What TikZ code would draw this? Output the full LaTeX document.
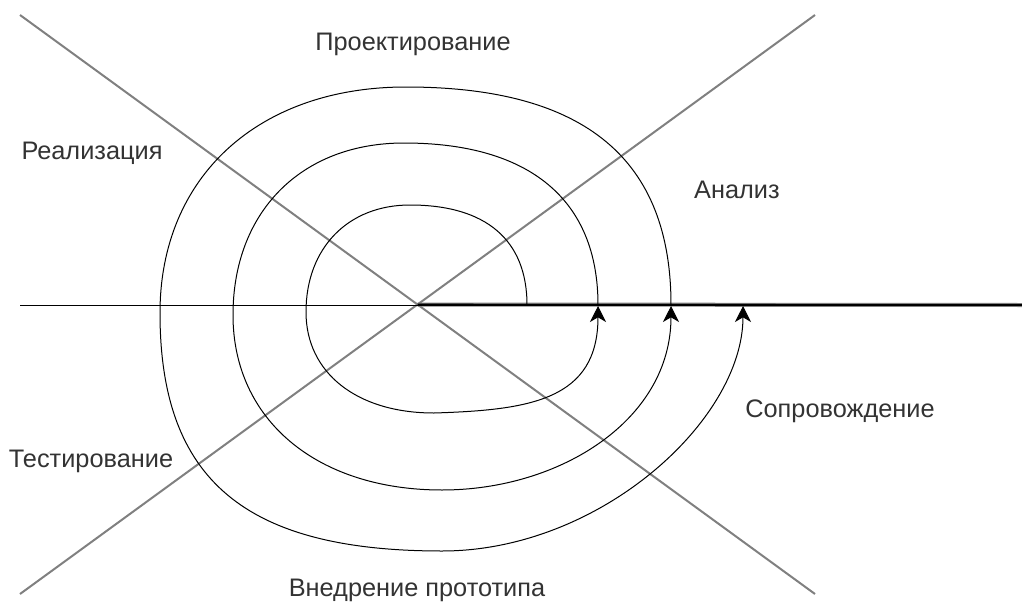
\documentclass[tikz,border=0pt]{standalone}
\usepackage{fontspec}
\setmainfont{Liberation Sans}
\usetikzlibrary{arrows.meta}
\definecolor{axisgray}{HTML}{808080}
\definecolor{txt}{HTML}{333333}
\begin{document}
\begin{tikzpicture}[x=0.75pt,y=-0.75pt,
  axis/.style={draw=axisgray,line width=1.5pt},
  hline/.style={draw=black,line width=0.75pt},
  spiral/.style={draw=black,line width=0.75pt},
  arr/.style={-{Stealth[length=12pt,width=12pt,inset=3.5pt]}},
  lbl/.style={text=txt,font=\fontsize{19}{22}\selectfont,inner sep=0pt}]
\useasboundingbox (0,0) rectangle (1022,607);
% axes
\coordinate (O) at (417.5,304.5);
\coordinate (d1s) at (20,15);
\coordinate (d1e) at (815,594);
\coordinate (d2s) at (20,594);
\coordinate (d2e) at (815,15);
\coordinate (hs) at (20,305);
\coordinate (he) at (1022,305);
\draw[axis] (d1s) -- (d1e);
\draw[axis] (d2s) -- (d2e);
\draw[draw=axisgray,line width=3pt] (O) -- (he);
\draw[hline] (hs) -- (he);
\draw[draw=black,line width=1.2pt] (O) -- (he);
% spiral points
\coordinate (s1) at (527,305);
\coordinate (e1) at (598,306);
\coordinate (e2) at (671,306);
\coordinate (e3) at (743,306);
% inner ring
\draw[spiral,arr] (s1) .. controls (527,240) and (486,205) .. (410,205)
  .. controls (348,205) and (306,248) .. (306,312)
  .. controls (306,373) and (357,413) .. (434,413)
  .. controls (530,410) and (598,400) .. (e1);
% middle ring
\draw[spiral,arr] (598,305) .. controls (598,200) and (530,143) .. (404,143)
  .. controls (301,143) and (233,212) .. (233,315)
  .. controls (233,420) and (317,490) .. (442,490)
  .. controls (560,490) and (671,420) .. (e2);
% outer ring
\draw[spiral,arr] (671,305) .. controls (671,160) and (586,87) .. (406,87)
  .. controls (258,87) and (160,177) .. (160,313)
  .. controls (160,480) and (245,551) .. (442,551)
  .. controls (600,551) and (743,420) .. (e3);
% labels
\node[lbl] (proj) at (413,44) {Проектирование};
\node[lbl] (real) at (92,153) {Реализация};
\node[lbl] (anal) at (737,190) {Анализ};
\node[lbl] (sopr) at (840,411) {Сопровождение};
\node[lbl] (test) at (91,461) {Тестирование};
\node[lbl] (vned) at (417,590) {Внедрение прототипа};
\end{tikzpicture}
\end{document}
